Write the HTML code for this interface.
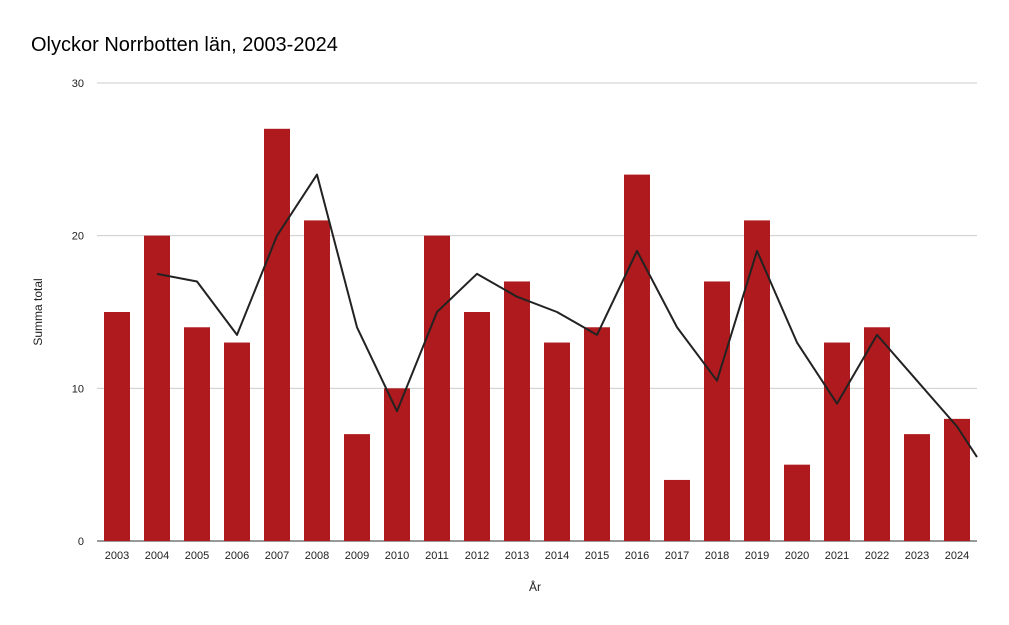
<!DOCTYPE html>
<html><head><meta charset="utf-8">
<style>
body{margin:0;background:#fff;}
svg{display:block;font-family:"Liberation Sans",Arial,sans-serif;}
</style></head>
<body>
<svg id="chart" width="1009" height="625" viewBox="0 0 1009 625">
<rect width="1009" height="625" fill="#fff"/>
<text x="31" y="51" font-size="20" fill="#000">Olyckor Norrbotten län, 2003-2024</text>
<g id="grid"></g>
<g id="bars"></g>
<g id="line"></g>
<g id="xticks"></g>
<g id="yticks"></g>
<text transform="translate(42,312) rotate(-90)" text-anchor="middle" font-size="12" fill="#222">Summa total</text>
<text x="535" y="591" text-anchor="middle" font-size="12" fill="#222">År</text>
</svg>
<script>
const years=["2003","2004","2005","2006","2007","2008","2009","2010","2011","2012","2013","2014","2015","2016","2017","2018","2019","2020","2021","2022","2023","2024"];
const counts=[15,20,14,13,27,21,7,10,20,15,17,13,14,24,4,17,21,5,13,14,7,8];
const trend=[null,17.5,17,13.5,20,24,14,8.5,15,17.5,16,15,13.5,19,14,10.5,19,13,9,13.5,10.5,7.5];
const trendEnd=5.5;
const yTicks=[0,10,20,30];
const NS="http://www.w3.org/2000/svg";
const x0=97,x1=977,yB=541,yT=83,yMax=30;
const band=(x1-x0)/years.length;
const xc=i=>x0+band*(i+0.5);
const y=v=>yB-(v/yMax)*(yB-yT);
function mk(t,a,p){const e=document.createElementNS(NS,t);for(const k in a)e.setAttribute(k,a[k]);p.appendChild(e);return e;}
const g=document.getElementById('grid'),yt=document.getElementById('yticks');
yTicks.forEach(v=>{
  const l=mk('line',{x1:x0,x2:x1,y1:y(v),y2:y(v),stroke:v===0?'#333':'#ccc','stroke-width':1},g);
  
  
  const t=mk('text',{x:x0-13,y:y(v)+4,'text-anchor':'end','font-size':11,fill:'#222'},yt);
  t.textContent=v;
  
  
});
const b=document.getElementById('bars'),xt=document.getElementById('xticks');
counts.forEach((v,i)=>{
  const w=26;
  const r=mk('rect',{x:xc(i)-w/2,y:y(v),width:w,height:y(0)-y(v),fill:'#ae1a1d'},b);
  
  
  const t=mk('text',{x:xc(i),y:559,'text-anchor':'middle','font-size':11,fill:'#222'},xt);
  t.textContent=years[i];
  
  
});
let pts=[];
trend.forEach((v,i)=>{if(v!==null)pts.push(xc(i)+','+y(v));});
pts.push(x1+','+y(trendEnd));
const pl=mk('polyline',{points:pts.join(' '),fill:'none',stroke:'#222','stroke-width':2,'stroke-linejoin':'round'},document.getElementById('line'));


</script>
</body></html>
